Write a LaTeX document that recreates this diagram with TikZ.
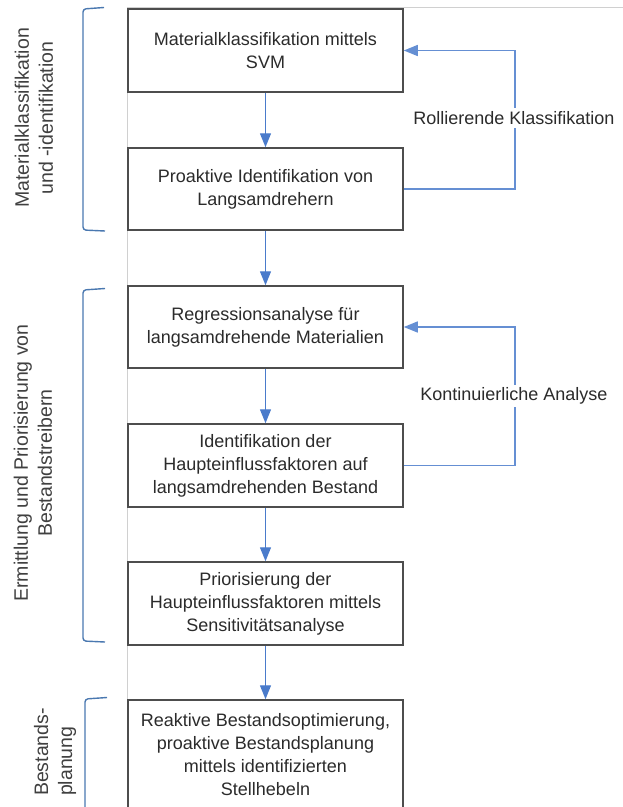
\documentclass[tikz,border=0pt]{standalone}
\usepackage{fontspec}
\setmainfont{Liberation Sans}
\usetikzlibrary{arrows.meta}
\definecolor{boxline}{HTML}{4D4D4D}
\definecolor{txt}{HTML}{2B2B2B}
\definecolor{sidetxt}{HTML}{404040}
\definecolor{arrblue}{HTML}{4A7BCB}
\definecolor{brkblue}{HTML}{4A78B0}
\definecolor{pagegrey}{HTML}{D0D0D0}
\tikzset{
  stepbox/.style={draw=boxline, line width=1.5pt, fill=white, text=txt,
    minimum width=275pt, align=center, inner sep=0pt,
    font=\fontsize{18}{23}\selectfont},
  flow/.style={draw=arrblue, line width=1.4pt, -{Triangle[width=11pt,length=14pt]}},
  loopline/.style={draw=arrblue!85, line width=1.4pt, -{Triangle[width=11pt,length=14pt]}},
  looplabel/.style={fill=white, text=txt, inner sep=3pt, font=\fontsize{18}{23}\selectfont},
  brk/.style={draw=brkblue, line width=1.4pt, rounded corners=3pt},
  sidelabel/.style={rotate=90, text=sidetxt, align=center, inner sep=0pt,
    font=\fontsize{19.5}{24}\selectfont},
}
\begin{document}
\begin{tikzpicture}[x=1pt, y=-1pt]
\useasboundingbox (0,0) rectangle (623,807);
\clip (0,0) rectangle (623,807);
% page frame lines
\draw[pagegrey, line width=0.8pt] (127,7) -- (623,7);
\draw[pagegrey, line width=0.8pt] (127,7) -- (127,807);
% boxes
\node[stepbox, minimum height=83pt] (b1) at (265.5,50.5) {Materialklassifikation mittels\\SVM};
\node[stepbox, minimum height=82pt] (b2) at (265.5,189) {Proaktive Identifikation von\\Langsamdrehern};
\node[stepbox, minimum height=82pt] (b3) at (265.5,327) {Regressionsanalyse für\\langsamdrehende Materialien};
\node[stepbox, minimum height=83pt] (b4) at (265.5,465.5) {Identifikation der\\Haupteinflussfaktoren auf\\langsamdrehenden Bestand};
\node[stepbox, minimum height=83pt] (b5) at (265.5,603.5) {Priorisierung der\\Haupteinflussfaktoren mittels\\Sensitivitätsanalyse};
\node[stepbox, minimum height=110pt] (b6) at (265.5,755) {Reaktive Bestandsoptimierung,\\proaktive Bestandsplanung\\mittels identifizierten\\Stellhebeln};
% flow arrows
\draw[flow] (b1.south) -- (b2.north);
\draw[flow] (b2.south) -- (b3.north);
\draw[flow] (b3.south) -- (b4.north);
\draw[flow] (b4.south) -- (b5.north);
\draw[flow] (b5.south) -- (b6.north);
% feedback loops
\coordinate (l1a) at (515,189);
\coordinate (l1b) at (515,50.5);
\draw[loopline] (b2.east) -- (l1a) -- (l1b) -- (b1.east);
\node[looplabel] (r1) at (514,118) {Rollierende Klassifikation};
\coordinate (l2a) at (515,465.5);
\coordinate (l2b) at (515,327);
\draw[loopline] (b4.east) -- (l2a) -- (l2b) -- (b3.east);
\node[looplabel] (r2) at (514,396) {Kontinuierliche Analyse};
% brackets
\draw[brk] (104,7.5) -- (83,9) -- (83,230) -- (105,231);
\draw[brk] (105,288.5) -- (83,290) -- (83,641) -- (105,642);
\draw[brk] (107,697.5) -- (85,699) -- (85,830);
% side labels
\node[sidelabel] (s1) at (34,118) {Materialklassifikation\\und -identifikation};
\node[sidelabel] (s2) at (33,463) {Ermittlung und Priorisierung von\\Bestandstreibern};
\node[sidelabel, align=left] (s3) at (55,752) {Bestands-\\planung};
\end{tikzpicture}
\end{document}
